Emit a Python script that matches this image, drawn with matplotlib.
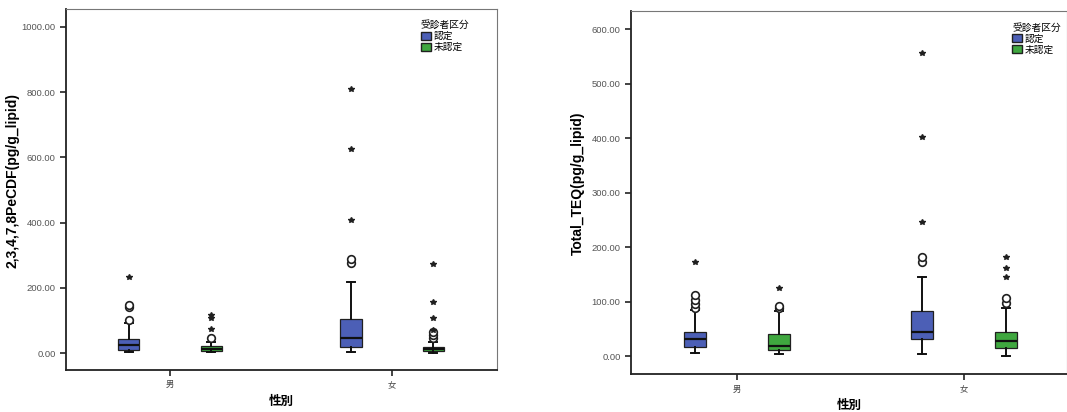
import matplotlib
matplotlib.use('Agg')
import matplotlib.pyplot as plt
from matplotlib.patches import Patch

plt.rcParams['font.family'] = ['Noto Sans CJK JP', 'DejaVu Sans']

## categories / legend
groups = ['男', '女']
kubun = ['認定', '未認定']
colors = ['#4c5fb6', '#3fa73f']

## box stats: [q1, median, q3, whisker low, whisker high] per group, per kubun
pecdf_box = {
    '認定':   [[8, 25, 43, 2, 92], [18, 46, 104, 2, 218]],
    '未認定': [[6, 13, 21, 2, 35], [6, 12, 20, 1, 33]],
}
pecdf_circ = {
    '認定':   [[100, 140, 147], [276, 288]],
    '未認定': [[45], [46, 55, 64]],
}
pecdf_star = {
    '認定':   [[233], [408, 625, 810]],
    '未認定': [[75, 108, 118], [72, 107, 157, 273]],
}

teq_box = {
    '認定':   [[17, 31, 44, 5, 84], [31, 44, 83, 4, 145]],
    '未認定': [[11, 18, 40, 4, 82], [15, 28, 44, 0, 88]],
}
teq_circ = {
    '認定':   [[88, 95, 103, 112], [173, 182]],
    '未認定': [[88, 92], [97, 106]],
}
teq_star = {
    '認定':   [[172], [246, 402, 556]],
    '未認定': [[125], [145, 161, 182]],
}

pecdf_ticks = [0, 200, 400, 600, 800, 1000]
teq_ticks = [0, 100, 200, 300, 400, 500, 600]


def draw(ax, box, circ, star, ticks, ylim, xlim, ylabel, leg_anchor, label_x):
    offs = [-0.185, 0.185]
    for k, name in enumerate(kubun):
        stats = []
        pos = []
        for g in range(len(groups)):
            q1, med, q3, lo, hi = box[name][g]
            stats.append(dict(q1=q1, med=med, q3=q3, whislo=lo, whishi=hi, fliers=[]))
            pos.append(g + offs[k])
        ax.bxp(stats, positions=pos, widths=0.095, patch_artist=True, showfliers=False,
               boxprops=dict(facecolor=colors[k], edgecolor='#202020', linewidth=0.9),
               medianprops=dict(color='#101010', linewidth=1.6),
               whiskerprops=dict(color='#101010', linewidth=1.4),
               capprops=dict(color='#101010', linewidth=1.4), capwidths=0.035)
        for g in range(len(groups)):
            x = g + offs[k]
            c = circ[name][g]
            ax.plot([x] * len(c), c, 'o', mfc='white', mec='#202020', ms=5.5, mew=1.2, ls='none')
            s = star[name][g]
            ax.plot([x] * len(s), s, '*', color='#202020', ms=4, ls='none')

    ax.set_xlim(*xlim)
    ax.set_ylim(*ylim)
    ax.set_xticks(range(len(groups)))
    ax.set_xticklabels(groups, fontsize=6, color='#444444')
    ax.set_yticks(ticks)
    ax.set_yticklabels(['%.2f' % t for t in ticks], fontsize=6.8, color='#555555',
                       family='Liberation Sans')
    ax.tick_params(axis='both', length=4, width=1.2, color='#222222')
    ax.set_xlabel('性別', fontsize=9, fontweight='bold', labelpad=4)
    ax.set_ylabel(ylabel, fontsize=10, fontweight='bold', family='Liberation Sans')
    ax.yaxis.set_label_coords(label_x, 0.525)
    for sp in ['left', 'bottom']:
        ax.spines[sp].set_linewidth(1.3)
        ax.spines[sp].set_color('#222222')
    for sp in ['top', 'right']:
        ax.spines[sp].set_linewidth(0.8)
        ax.spines[sp].set_color('#777777')
    handles = [Patch(facecolor=colors[i], edgecolor='#202020', label=kubun[i]) for i in range(2)]
    leg = ax.legend(handles=handles, title='受診者区分', loc='upper right', frameon=False,
                    bbox_to_anchor=leg_anchor,
                    fontsize=7, title_fontsize=7, handlelength=1.0, handleheight=1.0,
                    handletextpad=0.3, labelspacing=0.1, borderaxespad=0.2)
    leg._legend_box.align = 'left'


fig = plt.figure(figsize=(10.67, 4.12), dpi=100)
ax1 = fig.add_axes([0.0619, 0.102, 0.404, 0.876])
ax2 = fig.add_axes([0.5914, 0.092, 0.4086, 0.881])

draw(ax1, pecdf_box, pecdf_circ, pecdf_star, pecdf_ticks, (-52, 1055), (-0.468, 1.473),
     '2,3,4,7,8PeCDF(pg/g_lipid)', (0.95, 0.985), -0.107)
draw(ax2, teq_box, teq_circ, teq_star, teq_ticks, (-33, 633), (-0.467, 1.454),
     'Total_TEQ(pg/g_lipid)', (1.0, 0.985), -0.105)

fig.savefig('out.png', dpi=100)
